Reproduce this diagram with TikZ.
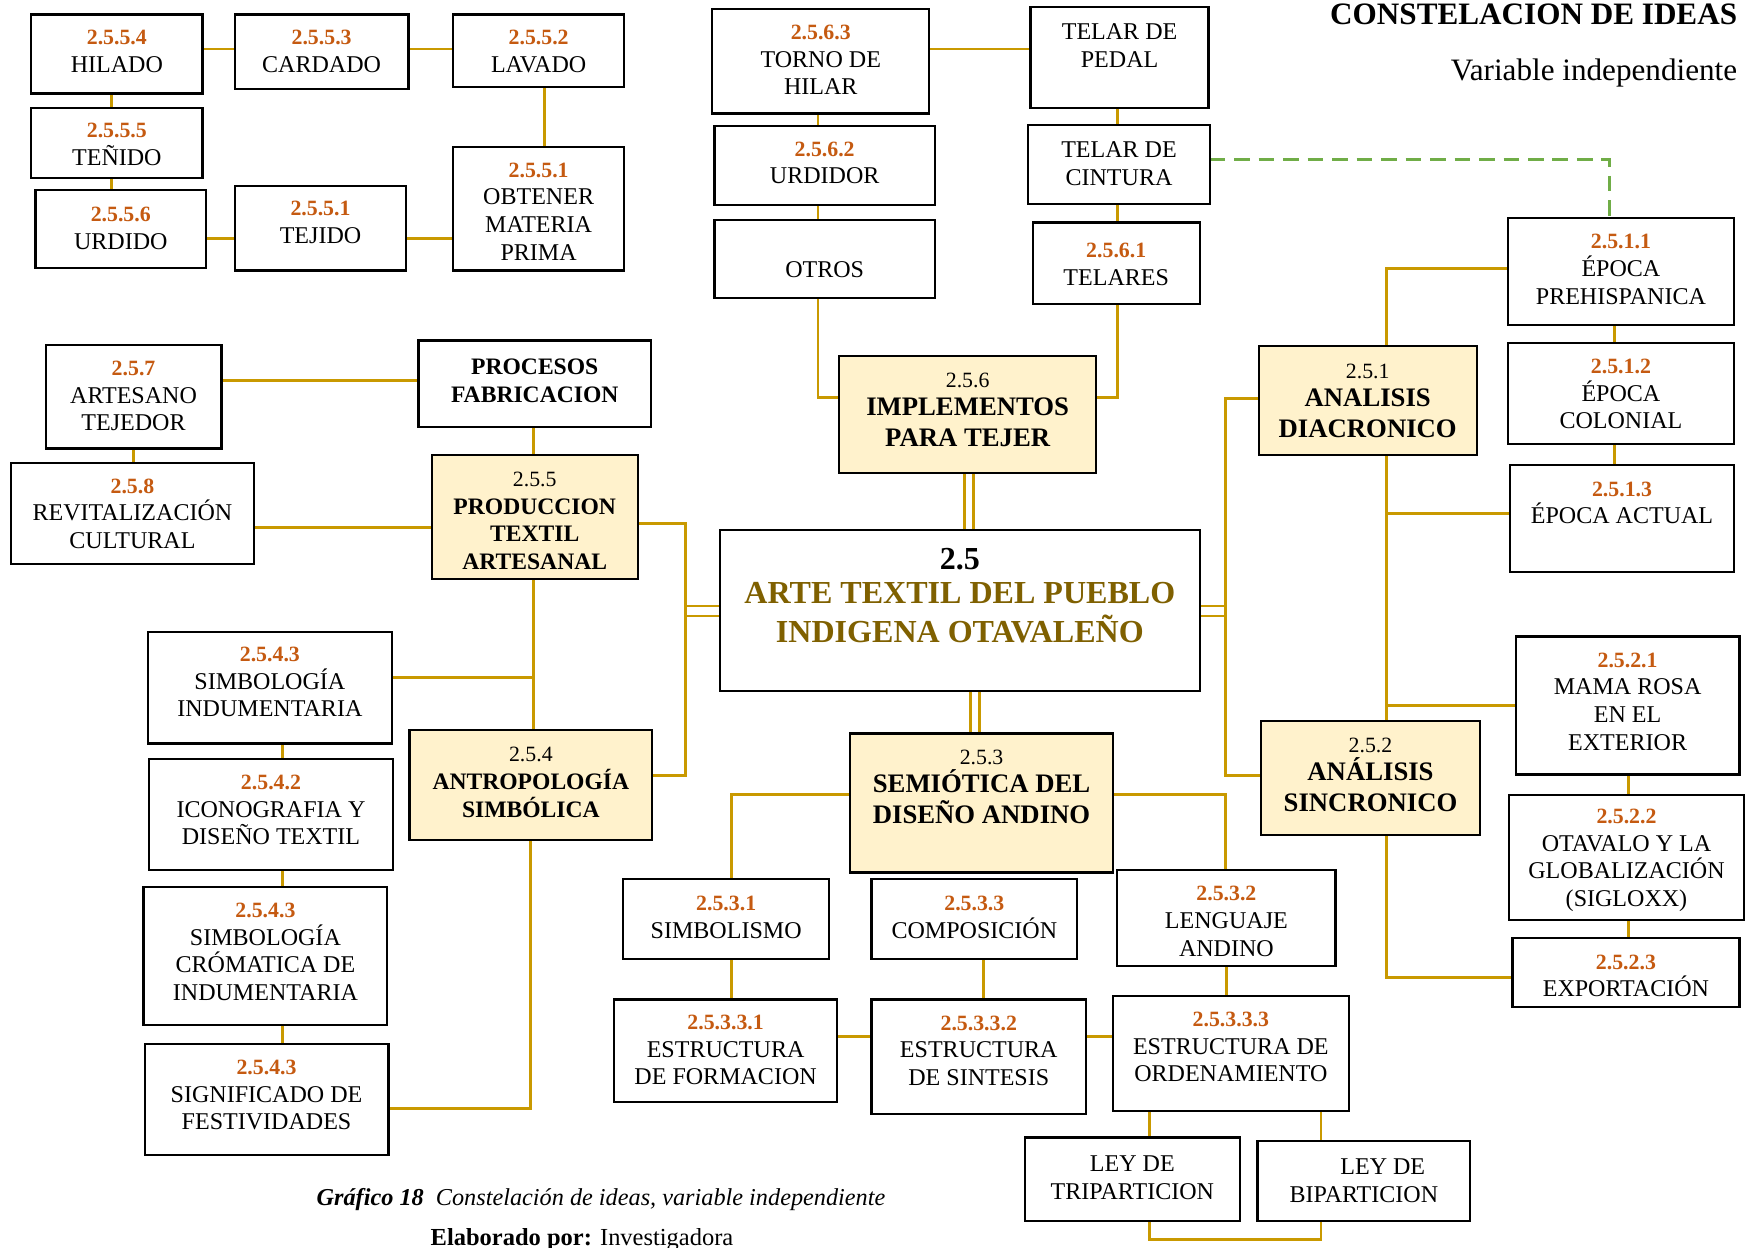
\documentclass[tikz,border=0pt]{standalone}
\usepackage{fontspec}
\setmainfont{Liberation Serif}
\definecolor{gold}{RGB}{201,153,0}
\definecolor{numor}{RGB}{197,90,17}
\definecolor{artolive}{RGB}{127,96,0}
\definecolor{cream}{RGB}{255,242,204}
\definecolor{dgreen}{RGB}{112,173,71}
\newcommand\onum[1]{{\color{numor}\bfseries\fontsize{9.8}{12.4}\selectfont #1}}
\newcommand\ynum[1]{{\mdseries\fontsize{9.8}{12}\selectfont #1}}
% box: #1 box style, #2 text style, #3 name, #4-#7 corners, #8 text centre y, #9 text
\newcommand\cbox[9]{%
  \node[#1, minimum width={(#6-#4)*0.5pt}, minimum height={(#7-#5)*0.5pt}] (#3) at ({(#4+#6)/2},{(#5+#7)/2}) {};
  \node[#2] (#3-t) at ({(#4+#6)/2},#8) {#9};
}
\pgfdeclarelayer{bg}
\pgfsetlayers{bg,main}
\begin{document}
\begin{tikzpicture}[x=0.5pt,y=-0.5pt,
  bx/.style={draw=black, line width=1pt, fill=white, rectangle, inner sep=0pt, outer sep=0pt},
  yb/.style={bx, fill=cream},
  tx/.style={align=center, inner sep=0pt, font=\fontsize{10.8}{12.4}\selectfont},
  tyb/.style={tx, font=\fontsize{12}{14}\selectfont\bfseries},
  tys/.style={tx, font=\fontsize{10.6}{12.4}\selectfont\bfseries},
  tmain/.style={tx, font=\fontsize{14.4}{17.5}\selectfont\bfseries},
  ln/.style={draw=gold, line width=1.3pt},
  dl/.style={draw=dgreen, line width=1.3pt, dash pattern=on 7pt off 4pt}]
\useasboundingbox (0,0) rectangle (1568,1121);
\begin{pgfonlayer}{bg}
\fill[white] (0,0) rectangle (1568,1121);
\end{pgfonlayer}

% ---- production steps (top left)
\cbox{bx}{tx}{hilado}{28}{13}{182}{84}{46}{\onum{2.5.5.4}\\HILADO}
\cbox{bx}{tx}{cardado}{211}{13}{367}{80}{46}{\onum{2.5.5.3}\\CARDADO}
\cbox{bx}{tx}{lavado}{407}{13}{561}{78}{46}{\onum{2.5.5.2}\\LAVADO}
\cbox{bx}{tx}{tenido}{28}{97}{182}{160}{130}{\onum{2.5.5.5}\\TEÑIDO}
\cbox{bx}{tx}{urdido}{32}{171}{185}{241}{205}{\onum{2.5.5.6}\\URDIDO}
\cbox{bx}{tx}{tejido}{211}{167}{365}{243}{200}{\onum{2.5.5.1}\\TEJIDO}
\cbox{bx}{tx}{obtener}{407}{132}{561}{243}{190}{\onum{2.5.5.1}\\OBTENER\\MATERIA\\PRIMA}

% ---- weaving implements (top middle)
\cbox{bx}{tx}{torno}{640}{8}{835}{102}{54}{\onum{2.5.6.3}\\TORNO DE\\HILAR}
\cbox{bx}{tx}{urdidor}{642}{113}{840}{184}{146.5}{\onum{2.5.6.2}\\URDIDOR}
\cbox{bx}{tx}{otros}{642}{198}{840}{268}{242}{OTROS}
\cbox{bx}{tx}{pedal}{926}{6}{1086}{97}{41}{TELAR DE\\PEDAL}
\cbox{bx}{tx}{cintura}{924}{112}{1087}{183}{147}{TELAR DE\\CINTURA}
\cbox{bx}{tx}{telares}{928}{200}{1078}{273}{237.5}{\onum{2.5.6.1}\\TELARES}
\cbox{yb}{tyb}{implementos}{754}{320}{985}{425}{368.5}{\ynum{2.5.6}\\[-1.5pt]IMPLEMENTOS\\PARA TEJER}

% ---- central topic
\cbox{bx}{tmain}{artetextil}{647}{476}{1078}{621}{535}{2.5\\[-2pt]\textcolor{artolive}{ARTE TEXTIL DEL PUEBLO}\\\textcolor{artolive}{INDIGENA OTAVALEÑO}}

% ---- diachronic / synchronic analysis (right)
\cbox{yb}{tyb}{diacronico}{1131}{311}{1327}{409}{360.5}{\ynum{2.5.1}\\[-1.5pt]ANALISIS\\DIACRONICO}
\cbox{bx}{tx}{prehisp}{1355}{196}{1558}{292}{242}{\onum{2.5.1.1}\\ÉPOCA\\PREHISPANICA}
\cbox{bx}{tx}{colonial}{1355}{308}{1558}{399}{354}{\onum{2.5.1.2}\\ÉPOCA\\COLONIAL}
\cbox{bx}{tx}{actual}{1357}{418}{1558}{514}{452}{\onum{2.5.1.3}\\ÉPOCA ACTUAL}
\cbox{bx}{tx}{mamarosa}{1362}{572}{1563}{696}{630.5}{\onum{2.5.2.1}\\MAMA ROSA\\EN EL\\EXTERIOR}
\cbox{bx}{tx}{otavalo}{1356}{714}{1567}{827}{773}{\onum{2.5.2.2}\\OTAVALO Y LA\\GLOBALIZACIÓN\\(SIGLOXX)}
\cbox{bx}{tx}{exportacion}{1359}{843}{1563}{905}{877}{\onum{2.5.2.3}\\EXPORTACIÓN}
\cbox{yb}{tyb}{sincronico}{1133}{648}{1330}{750}{696.5}{\ynum{2.5.2}\\[-1.5pt]ANÁLISIS\\SINCRONICO}

% ---- semiotics (bottom middle)
\cbox{yb}{tyb}{semiotica}{764}{659}{1000}{784}{707.5}{\ynum{2.5.3}\\[-1.5pt]SEMIÓTICA DEL\\DISEÑO ANDINO}
\cbox{bx}{tx}{simbolismo}{560}{790}{745}{862}{824.5}{\onum{2.5.3.1}\\SIMBOLISMO}
\cbox{bx}{tx}{composicion}{783}{790}{968}{862}{824.5}{\onum{2.5.3.3}\\COMPOSICIÓN}
\cbox{bx}{tx}{lenguaje}{1004}{782}{1200}{868}{828}{\onum{2.5.3.2}\\LENGUAJE\\ANDINO}
\cbox{bx}{tx}{formacion}{552}{898}{752}{990}{943.5}{\onum{2.5.3.3.1}\\ESTRUCTURA\\DE FORMACION}
\cbox{bx}{tx}{sintesis}{783}{898}{976}{1001}{944}{\onum{2.5.3.3.2}\\ESTRUCTURA\\DE SINTESIS}
\cbox{bx}{tx}{ordenamiento}{1000}{895}{1212}{998}{941}{\onum{2.5.3.3.3}\\ESTRUCTURA DE\\ORDENAMIENTO}
\cbox{bx}{tx}{triparticion}{921}{1022}{1114}{1097}{1058}{LEY DE\\TRIPARTICION}
\cbox{bx}{tx}{biparticion}{1130}{1025}{1321}{1097}{1061}{\hspace*{17pt}LEY DE\\BIPARTICION}

% ---- textile production (left middle)
\cbox{bx}{tx}{artesano}{41}{310}{199}{403}{356}{\onum{2.5.7}\\ARTESANO\\TEJEDOR}
\cbox{bx}{tys}{procesos}{376}{306}{585}{384}{342}{PROCESOS\\FABRICACION}
\cbox{bx}{tx}{revital}{10}{416}{228}{507}{461.5}{\onum{2.5.8}\\REVITALIZACIÓN\\CULTURAL}
\cbox{yb}{tys}{produccion}{388}{409}{573}{520}{468}{\ynum{2.5.5}\\PRODUCCION\\TEXTIL\\ARTESANAL}

% ---- symbolic anthropology (bottom left)
\cbox{bx}{tx}{simbind}{133}{568}{352}{668}{613}{\onum{2.5.4.3}\\SIMBOLOGÍA\\INDUMENTARIA}
\cbox{bx}{tx}{icono}{134}{682}{353}{782}{728}{\onum{2.5.4.2}\\ICONOGRAFIA Y\\DISEÑO TEXTIL}
\cbox{bx}{tx}{cromatica}{129}{797}{348}{921}{855.5}{\onum{2.5.4.3}\\SIMBOLOGÍA\\CRÓMATICA DE\\INDUMENTARIA}
\cbox{bx}{tx}{festividades}{130}{938}{349}{1038}{984}{\onum{2.5.4.3}\\SIGNIFICADO DE\\FESTIVIDADES}
\cbox{yb}{tys}{antropologia}{368}{656}{586}{755}{703}{\ynum{2.5.4}\\ANTROPOLOGÍA\\SIMBÓLICA}

% ---- headings and caption
\node[anchor=base east, font=\fontsize{14}{16}\selectfont\bfseries] (title) at (1568,22) {CONSTELACION DE IDEAS};
\node[anchor=base east, font=\fontsize{14}{16}\selectfont] (subtitle) at (1568,72) {Variable independiente};
\node[anchor=base, font=\fontsize{10.9}{13}\selectfont\itshape] (caption) at (540,1083) {\textbf{Gráfico 18}\hspace{0.5em}Constelación de ideas, variable independiente};
\node[anchor=base, font=\fontsize{11}{13}\selectfont] (author) at (523,1119) {\textbf{Elaborado por:} Investigadora};

% bus points beside the central topic
\coordinate (lbus) at (616,547);
\coordinate (rbus) at (1101,547);

% ---- connectors
\begin{pgfonlayer}{bg}
% production steps
\draw[ln] (hilado.east |- 0,44) -- (cardado.west |- 0,44);
\draw[ln] (cardado.east |- 0,44) -- (lavado.west |- 0,44);
\draw[ln] (lavado.south -| 489,0) -- (obtener.north -| 489,0);
\draw[ln] (hilado.south -| 100,0) -- (tenido.north -| 100,0);
\draw[ln] (tenido.south -| 100,0) -- (urdido.north -| 100,0);
\draw[ln] (urdido.east |- 0,214) -- (tejido.west |- 0,214);
\draw[ln] (tejido.east |- 0,214) -- (obtener.west |- 0,214);
% implements
\draw[ln] (torno.east |- 0,44) -- (pedal.west |- 0,44);
\draw[ln] (torno.south -| 735,0) -- (urdidor.north -| 735,0);
\draw[ln] (urdidor.south -| 735,0) -- (otros.north -| 735,0);
\draw[ln] (otros.south -| 735,0) |- (implementos.west |- 0,357);
\draw[ln] (pedal.south -| 1004,0) -- (cintura.north -| 1004,0);
\draw[ln] (cintura.south -| 1004,0) -- (telares.north -| 1004,0);
\draw[ln] (telares.south -| 1004,0) |- (implementos.east |- 0,357);
\draw[dl] (cintura.east |- 0,143) -| (prehisp.north -| 1446,0);
% double links of the central topic
\draw[ln] (implementos.south -| 867,0) -- (artetextil.north -| 867,0);
\draw[ln] (implementos.south -| 875,0) -- (artetextil.north -| 875,0);
\draw[ln] (artetextil.south -| 872,0) -- (semiotica.north -| 872,0);
\draw[ln] (artetextil.south -| 880,0) -- (semiotica.north -| 880,0);
\draw[ln] (artetextil.west |- 0,544.5) -- (lbus |- 0,544.5);
\draw[ln] (artetextil.west |- 0,553.5) -- (lbus |- 0,553.5);
\draw[ln] (artetextil.east |- 0,544.5) -- (rbus |- 0,544.5);
\draw[ln] (artetextil.east |- 0,553.5) -- (rbus |- 0,553.5);
% buses
\draw[ln] (produccion.east |- 0,470) -| (lbus) |- (antropologia.east |- 0,697);
\draw[ln] (diacronico.west |- 0,358) -| (rbus) |- (sincronico.west |- 0,697);
% analysis branches
\draw[ln] (prehisp.west |- 0,241) -| (diacronico.north -| 1246,0);
\draw[ln] (diacronico.south -| 1246,0) -- (sincronico.north -| 1246,0);
\draw[ln] (diacronico.south -| 1246,0) |- (actual.west |- 0,461);
\draw[ln] (diacronico.south -| 1246,0) |- (mamarosa.west |- 0,634);
\draw[ln] (sincronico.south -| 1246,0) |- (exportacion.west |- 0,878);
\draw[ln] (prehisp.south -| 1451,0) -- (colonial.north -| 1451,0);
\draw[ln] (colonial.south -| 1451,0) -- (actual.north -| 1451,0);
\draw[ln] (mamarosa.south -| 1463,0) -- (otavalo.north -| 1463,0);
\draw[ln] (otavalo.south -| 1463,0) -- (exportacion.north -| 1463,0);
% semiotics
\draw[ln] (semiotica.west |- 0,714) -| (simbolismo.north -| 657,0);
\draw[ln] (semiotica.east |- 0,714) -| (lenguaje.north -| 1101,0);
\draw[ln] (simbolismo.south -| 657,0) -- (formacion.north -| 657,0);
\draw[ln] (composicion.south -| 884,0) -- (sintesis.north -| 884,0);
\draw[ln] (lenguaje.south -| 1102,0) -- (ordenamiento.north -| 1102,0);
\draw[ln] (formacion.east |- 0,931) -- (sintesis.west |- 0,931);
\draw[ln] (sintesis.east |- 0,931) -- (ordenamiento.west |- 0,931);
\draw[ln] (ordenamiento.south -| 1033,0) -- (triparticion.north -| 1033,0);
\draw[ln] (ordenamiento.south -| 1187,0) -- (biparticion.north -| 1187,0);
\draw[ln] (triparticion.south -| 1033,0) |- (1110,1114) -| (biparticion.south -| 1187,0);
% textile production
\draw[ln] (artesano.east |- 0,342) -- (procesos.west |- 0,342);
\draw[ln] (artesano.south -| 120,0) -- (revital.north -| 120,0);
\draw[ln] (procesos.south -| 479,0) -- (produccion.north -| 479,0);
\draw[ln] (revital.east |- 0,474) -- (produccion.west |- 0,474);
\draw[ln] (produccion.south -| 479,0) -- (antropologia.north -| 479,0);
\draw[ln] (simbind.east |- 0,609) -| (produccion.south -| 479,0);
% symbolic anthropology
\draw[ln] (simbind.south -| 254,0) -- (icono.north -| 254,0);
\draw[ln] (icono.south -| 254,0) -- (cromatica.north -| 254,0);
\draw[ln] (cromatica.south -| 254,0) -- (festividades.north -| 254,0);
\draw[ln] (antropologia.south -| 477,0) |- (festividades.east |- 0,996);
\end{pgfonlayer}
\end{tikzpicture}
\end{document}
